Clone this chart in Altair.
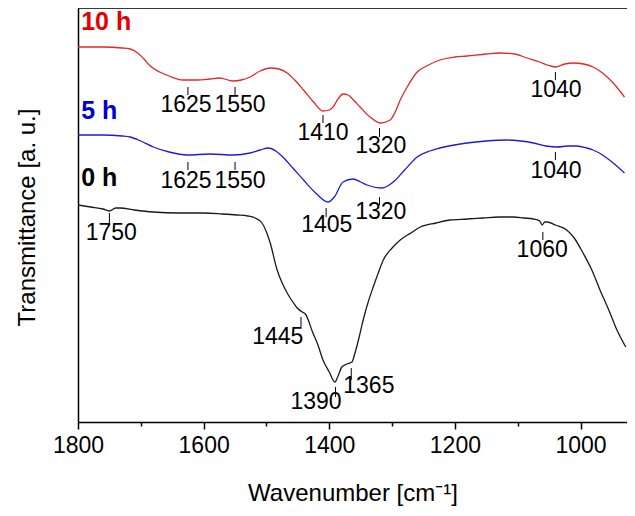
import altair as alt
import pandas as pd

# ---- spectra (wavenumber, transmittance in arbitrary units) ----
red_wn = [1800, 1760, 1730, 1717, 1705, 1695, 1685, 1670, 1655, 1633, 1610, 1590, 1575, 1553, 1540, 1526, 1510, 1494, 1480, 1467, 1455, 1441, 1425, 1410, 1400, 1394, 1385, 1378, 1370, 1360, 1351, 1335, 1319, 1303, 1295, 1287, 1275, 1260, 1245, 1224, 1200, 1181, 1150, 1128, 1105, 1085, 1065, 1053, 1040, 1025, 1012, 995, 980, 965, 948, 930]
red_px = [47, 47, 48, 49, 53, 59, 66, 72, 76, 80, 80, 79, 78, 81, 80, 77, 71, 68, 69, 73, 80, 90, 102, 111, 110, 107, 98, 94, 95, 101, 107, 117, 123, 120, 112, 100, 86, 72, 66, 60, 57, 56, 54, 53, 54, 58, 62, 65, 67, 64, 63, 64, 67, 73, 83, 97]

blue_wn = [1800, 1760, 1730, 1717, 1700, 1680, 1655, 1626, 1590, 1553, 1526, 1510, 1497, 1485, 1474, 1458, 1441, 1420, 1402, 1392, 1378, 1362, 1350, 1340, 1316, 1298, 1280, 1260, 1240, 1224, 1181, 1150, 1117, 1095, 1075, 1055, 1037, 1020, 1006, 990, 980, 965, 948, 930]
blue_px = [135, 135, 136, 137, 141, 147, 152, 155, 154, 155, 153, 150, 148, 151, 157, 168, 180, 194, 202, 197, 182, 179, 182, 185, 188, 182, 170, 157, 151, 148, 143, 141, 140, 141, 143, 146, 147, 146, 146, 148, 150, 155, 163, 173]

black_wn = [1800, 1780, 1760, 1750, 1740, 1733, 1710, 1680, 1640, 1600, 1570, 1547, 1530, 1518, 1507, 1500, 1494, 1483, 1475, 1467, 1458, 1451, 1443, 1438, 1426, 1418, 1410, 1400, 1391, 1386, 1380, 1372, 1364, 1359, 1352, 1346, 1338, 1330, 1322, 1314, 1300, 1287, 1270, 1255, 1230, 1208, 1180, 1155, 1130, 1107, 1090, 1075, 1065, 1061, 1057, 1053, 1040, 1022, 1010, 996, 982, 969, 955, 942, 928]
black_px = [205, 207, 209, 211, 208, 208, 210, 212, 213, 213, 214, 215, 216, 218, 223, 232, 243, 270, 283, 293, 302, 308, 312, 314, 333, 345, 360, 372, 382, 376, 367, 364, 362, 353, 336, 320, 302, 287, 273, 260, 248, 240, 233, 227, 223, 220, 219, 218, 217, 217, 218, 219, 221, 225, 222, 222, 225, 230, 238, 253, 270, 290, 310, 330, 347]

series_names = ["10 h", "5 h", "0 h"]
series_colors = ["#e32626", "#1c1cd6", "#1a1a1a"]
label_colors = ["#e60000", "#0000d0", "#000000"]

# series label anchor (wavenumber, transmittance)
label_wn = [1795, 1795, 1795]
label_v = [400, 311, 244]

# peak annotations
ann_label = ["1625", "1550", "1410", "1320", "1040",
             "1625", "1550", "1405", "1320", "1040",
             "1750", "1445", "1390", "1365", "1060"]
ann_wn = [1625, 1550, 1410, 1320, 1040,
          1625, 1550, 1405, 1320, 1040,
          1750, 1445, 1390, 1365, 1060]
ann_text_wn = [1628, 1542, 1410, 1318, 1039,
               1628, 1542, 1404, 1318, 1039,
               1747, 1482, 1421, 1337, 1061]
ann_tick_top = [335, 335, 307, 294, 350,
                260, 260, 214, 225, 270,
                209, 105, 35, 54, 190]
ann_tick_bot = [327, 327, 299, 285, 342,
                252, 252, 205, 217, 262,
                199, 95, 25, 42, 182]
ann_text_v = [317, 317, 289, 276, 332,
              241, 241, 197, 210, 251,
              189, 85, 20, 36, 172]

x_ticks = [1800, 1700, 1600, 1500, 1400, 1300, 1200, 1100, 1000]

W, H = 549, 414
FONT = "Liberation Sans, Arial, sans-serif"

rows = []
for name, wns, pxs in [("10 h", red_wn, red_px), ("5 h", blue_wn, blue_px), ("0 h", black_wn, black_px)]:
    for w, p in zip(wns, pxs):
        rows.append({"series": name, "wn": w, "v": 422 - p})
spec = pd.DataFrame(rows)

ann = pd.DataFrame({"label": ann_label, "wn": ann_wn, "twn": ann_text_wn,
                    "top": ann_tick_top, "bot": ann_tick_bot, "tv": ann_text_v})
labs = pd.DataFrame({"series": series_names, "wn": label_wn, "v": label_v})

xscale = alt.Scale(domain=[1800, 926], nice=False, zero=False)
yscale = alt.Scale(domain=[0, 414], nice=False, zero=False)

xaxis = alt.Axis(
    title="Wavenumber [cm⁻¹]", values=x_ticks, format="d",
    labelExpr="datum.value % 200 === 0 ? datum.label : ''",
    tickSize={"condition": {"test": "datum.value % 200 === 0", "value": 7}, "value": 4},
    tickColor="black", tickWidth=1.5, domainColor="black", domainWidth=1.5,
    labelFont=FONT, labelFontSize=23, labelColor="black", labelPadding=5,
    labelFlush=False, labelOverlap=False,
    titleFont=FONT, titleFontSize=24, titleFontWeight="normal", titleColor="black",
    titleY=71, titleBaseline="middle", grid=False,
)
yaxis = alt.Axis(
    title="Transmittance [a. u.]", labels=False, ticks=False, grid=False,
    domainColor="black", domainWidth=1.5,
    titleFont=FONT, titleFontSize=24, titleFontWeight="normal", titleColor="black",
    titleX=-51, titleY=209, titleAngle=270, titleAlign="center", titleBaseline="middle",
)

lines = alt.Chart(spec).mark_line(strokeWidth=1.3, clip=True, interpolate="monotone").encode(
    x=alt.X("wn:Q", scale=xscale, axis=xaxis),
    y=alt.Y("v:Q", scale=yscale, axis=yaxis),
    color=alt.Color("series:N", scale=alt.Scale(domain=series_names, range=series_colors), legend=None),
    order=alt.Order("wn:Q", sort="descending"),
)

ticks = alt.Chart(ann).mark_rule(color="black", strokeWidth=1).encode(
    x=alt.X("wn:Q", scale=xscale), y=alt.Y("top:Q", scale=yscale), y2="bot:Q")

texts = alt.Chart(ann).mark_text(font=FONT, fontSize=23, color="black", align="center", baseline="middle").encode(
    x=alt.X("twn:Q", scale=xscale), y=alt.Y("tv:Q", scale=yscale), text="label:N")

series_text = alt.Chart(labs).mark_text(font=FONT, fontSize=25, fontWeight="bold", align="left", baseline="middle").encode(
    x=alt.X("wn:Q", scale=xscale), y=alt.Y("v:Q", scale=yscale), text="series:N",
    color=alt.Color("series:N", scale=alt.Scale(domain=series_names, range=label_colors), legend=None),
)

top_border = alt.Chart(pd.DataFrame({"a": [0]})).mark_rule(color="black", strokeWidth=1.5).encode(
    x=alt.value(0), x2=alt.value(W), y=alt.value(0))

chart = alt.layer(lines, ticks, texts, series_text, top_border).resolve_scale(color="independent").properties(
    width=W, height=H,
    autosize=alt.AutoSizeParams(type="none"),
    padding={"left": 70, "top": 0, "right": 0, "bottom": 86},
).configure_view(stroke=None).configure(background="white")

chart.save("out.html", embed_options={"renderer": "svg", "actions": False})
